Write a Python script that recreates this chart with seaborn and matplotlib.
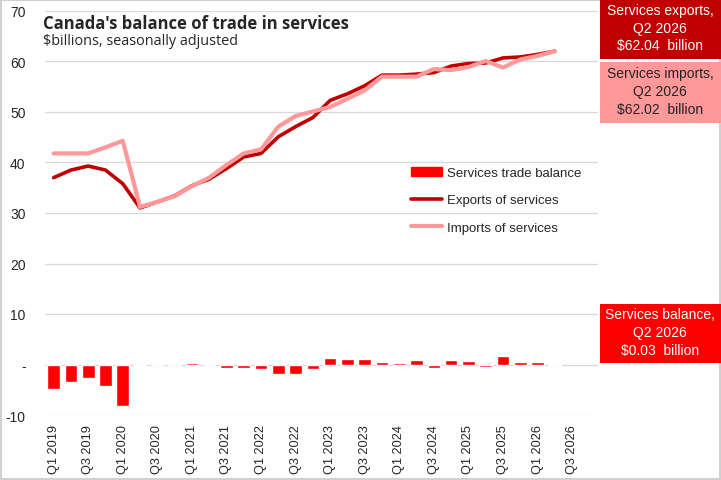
import numpy as np
import pandas as pd
import matplotlib
matplotlib.use('Agg')
import matplotlib.pyplot as plt
from matplotlib.patches import Rectangle, Patch
from matplotlib.lines import Line2D
import seaborn as sns

# axis categories: Q1 2019 .. Q4 2026, data up to Q2 2026
quarters = [f'Q{q} {y}' for y in range(2019, 2027) for q in range(1, 5)]

balance = [-4.8, -3.5, -2.7, -4.3, -8.3, -0.25, 0.0, 0.0, 0.2, 0.0,
           -0.7, -0.7, -0.9, -1.9, -1.9, -0.9, 1.2, 1.0, 1.0, 0.4,
           0.2, 0.8, -0.7, 0.8, 0.6, -0.5, 1.6, 0.4, 0.4, 0.03]
exports = [37.0, 38.5, 39.3, 38.5, 35.8, 31.0, 32.2, 33.4, 35.4, 36.7,
           38.8, 41.1, 41.8, 45.1, 47.1, 48.9, 52.3, 53.6, 55.2, 57.3,
           57.3, 57.5, 57.8, 59.1, 59.6, 59.7, 60.7, 60.9, 61.4, 62.04]
imports = [41.8, 41.8, 41.8, 43.0, 44.3, 31.2, 32.2, 33.3, 35.3, 37.0,
           39.5, 41.8, 42.6, 47.1, 49.2, 50.1, 51.0, 52.6, 54.3, 57.0,
           57.0, 57.0, 58.5, 58.3, 58.9, 60.1, 58.8, 60.4, 61.1, 62.02]

yticks = [-10, 0, 10, 20, 30, 40, 50, 60, 70]
ytick_labels = ['-10', '-', '10', '20', '30', '40', '50', '60', '70']

df = pd.DataFrame({'quarter': quarters[:len(balance)], 'balance': balance,
                   'exports': exports, 'imports': imports})
df['pos'] = np.arange(len(df))

c_exp = '#C00000'
c_imp = '#FF9999'
c_bal = '#FF0000'
grid_c = '#D9D9D9'

sns.set_style('white')
plt.rcParams['font.family'] = ['Liberation Sans', 'DejaVu Sans']

fig = plt.figure(figsize=(7.21, 4.81), dpi=100)
fig.patch.set_edgecolor('#D0D0D0')
fig.patch.set_linewidth(1.5)
ax = fig.add_axes([45 / 721, 1 - 416 / 481, (598 - 45) / 721, (416 - 12) / 481])

for t in yticks:
    ax.axhline(t, color=grid_c, lw=0.9, zorder=0)

sns.barplot(data=df, x='quarter', y='balance', order=quarters, color=c_bal,
            saturation=1, width=0.73, ax=ax, zorder=2)
sns.lineplot(x=df['pos'], y=df['exports'], color=c_exp, lw=2.6, ax=ax, zorder=3)
sns.lineplot(x=df['pos'], y=df['imports'], color=c_imp, lw=3.0, ax=ax, zorder=4)

ax.set_xlim(-0.5, 31.5)
ax.set_ylim(-10, 70)
ax.set_yticks(yticks)
ax.set_yticklabels(ytick_labels, fontsize=10)
ax.set_xticks(np.arange(0, 32, 2))
ax.set_xticklabels(quarters[::2], rotation=90, fontsize=9.2)
ax.tick_params(axis='y', length=0, pad=14)
ax.tick_params(axis='x', length=0, pad=6.5)
ax.set_xlabel('')
ax.set_ylabel('')
for s in ax.spines.values():
    s.set_visible(False)

handles = [Patch(color=c_bal), Line2D([], [], color=c_exp, lw=2.6),
           Line2D([], [], color=c_imp, lw=3.0)]
labels = ['Services trade balance', 'Exports of services', 'Imports of services']
fig.legend(handles, labels, loc='upper left', bbox_to_anchor=(408 / 721, 1 - 165 / 481),
           frameon=False, fontsize=9.5, handlelength=2.4, handletextpad=0.35,
           labelspacing=1.15, borderaxespad=0, borderpad=0.2)

# title
fig.text(43 / 721, 1 - 29 / 481, "Canada's balance of trade in services", fontsize=12,
         fontweight='bold', family='Open Sans', va='baseline')
fig.text(43 / 721, 1 - 45 / 481, '$billions, seasonally adjusted', fontsize=10.4,
         family='Open Sans', va='baseline')

# value boxes on the right
boxes = [(0, 60, c_exp, 'white', 'Services exports,\nQ2 2026\n$62.04  billion'),
         (63, 124, c_imp, '#222222', 'Services imports,\nQ2 2026\n$62.02  billion'),
         (305, 364, c_bal, 'white', 'Services balance,\nQ2 2026\n$0.03  billion')]
for top, bot, fc, tc, txt in boxes:
    fig.add_artist(Rectangle((600 / 721, 1 - bot / 481), 121 / 721, (bot - top) / 481,
                             transform=fig.transFigure, color=fc, lw=0))
    fig.text(660 / 721, 1 - (top + bot) / 2 / 481 + 1.5 / 481, txt, ha='center',
             va='center', color=tc, fontsize=10, linespacing=1.35)

fig.savefig('out.png', dpi=100, edgecolor=fig.get_edgecolor())
